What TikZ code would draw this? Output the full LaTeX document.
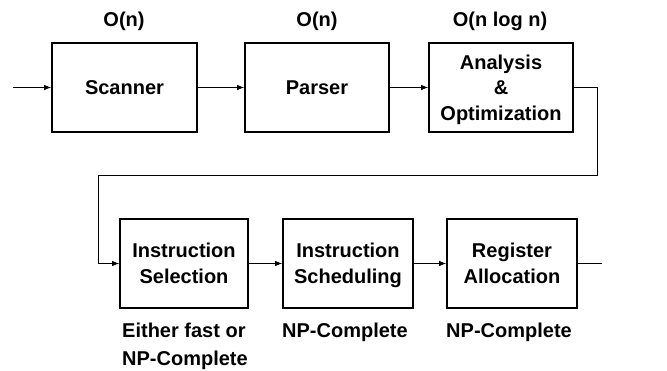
\documentclass[tikz,border=0pt]{standalone}
\usepackage{fontspec}
\setmainfont{Liberation Sans}
\usetikzlibrary{arrows.meta}
\newcommand\bxs{\rule[-5.5pt]{0pt}{25.5pt}}
\begin{document}
\begin{tikzpicture}[x=1pt,y=-1pt,
  box/.style={draw,line width=1.6pt,minimum height=89pt,inner sep=0pt,align=center,font=\fontsize{20}{25.5}\selectfont\bfseries},
  lbl/.style={inner sep=0pt,font=\fontsize{20}{28}\selectfont\bfseries},
  conn/.style={line width=0.9pt,-{Latex[length=7pt,width=5.5pt]}},
  wire/.style={line width=0.9pt}]
\useasboundingbox (0,0) rectangle (667,371);
\node[box,minimum width=145pt] (scan) at (124.5,87.5) {Scanner\bxs};
\node[box,minimum width=144pt] (pars) at (317,87.5) {Parser\bxs};
\node[box,minimum width=144pt] (anal) at (501,87.5) {Analysis\bxs\\\&\bxs\\Optimization\bxs};
\node[box,minimum width=128pt] (isel) at (184,263.5) {Instruction\bxs\\Selection\bxs};
\node[box,minimum width=130pt] (isch) at (348,263.5) {Instruction\bxs\\Scheduling\bxs};
\node[box,minimum width=130pt] (ralloc) at (512,263.5) {Register\bxs\\Allocation\bxs};
\node[lbl] (l1) at (124,21) {O(n)};
\node[lbl] (l2) at (317,21) {O(n)};
\node[lbl] (l3) at (500,21) {O(n log n)};
\node[lbl,align=left,anchor=west] (l4) at (122,346) {Either fast or\\NP-Complete};
\node[lbl] (l5) at (345,332) {NP-Complete};
\node[lbl] (l6) at (509,332) {NP-Complete};
\coordinate (in) at (13,87.5);
\coordinate (c1) at (597,87.5);
\coordinate (c2) at (597,175);
\coordinate (c3) at (98,175);
\coordinate (c4) at (98,263.5);
\coordinate (out) at (602,263.5);
\draw[conn] (in) -- (scan);
\draw[conn] (scan) -- (pars);
\draw[conn] (pars) -- (anal);
\draw[conn] (anal.east) -- (c1) -- (c2) -- (c3) -- (c4) -- (isel.west);
\draw[conn] (isel) -- (isch);
\draw[conn] (isch) -- (ralloc);
\draw[wire] (ralloc) -- (out);
\end{tikzpicture}
\end{document}
